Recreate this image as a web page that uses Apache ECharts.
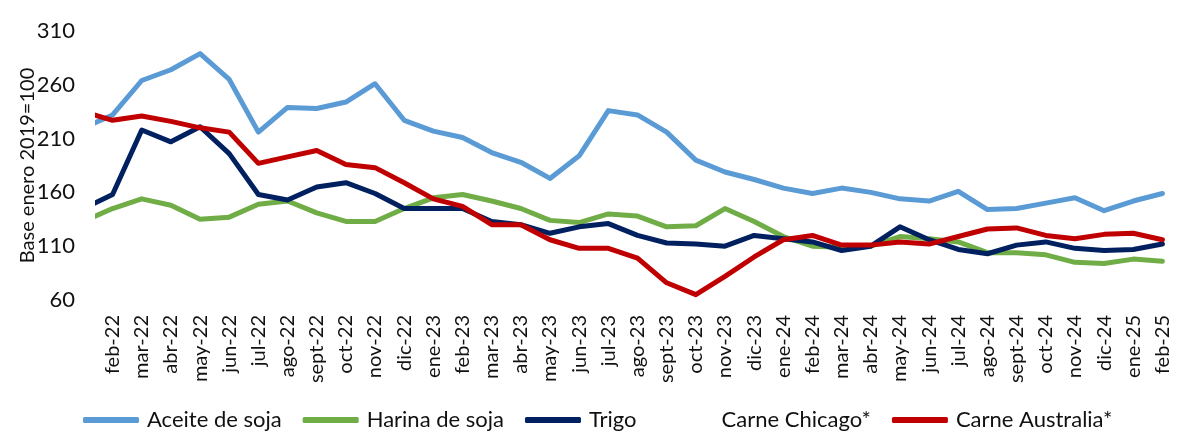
<!DOCTYPE html>
<html lang="es">
<head>
    <meta charset="UTF-8">
    <script src="https://cdn.jsdelivr.net/npm/echarts@6/dist/echarts.min.js"></script>
    <title>Precios</title>
    <style>
        html, body { margin: 0; padding: 0; background: #fff; }
    </style>
</head>
<body>
    <div id="main" style="width:1199px;height:448px"></div>
    <script>
        // etiquetas del eje (feb-22 .. feb-25)
        var meses = ['feb-22','mar-22','abr-22','may-22','jun-22','jul-22','ago-22','sept-22','oct-22','nov-22','dic-22',
            'ene-23','feb-23','mar-23','abr-23','may-23','jun-23','jul-23','ago-23','sept-23','oct-23','nov-23','dic-23',
            'ene-24','feb-24','mar-24','abr-24','may-24','jun-24','jul-24','ago-24','sept-24','oct-24','nov-24','dic-24',
            'ene-25','feb-25'];

        // el primer valor es ene-22, que queda fuera del área (la línea entra cortada por la izquierda)
        var aceite = [220, 232, 264, 274, 289, 265, 216, 239, 238, 244, 261, 227,
            217, 211, 197, 188, 173, 194, 236, 232, 216, 190, 179, 172,
            164, 159, 164, 160, 154, 152, 161, 144, 145, 150, 155, 143,
            152, 159];
        var harina = [133, 145, 154, 148, 135, 137, 149, 152, 141, 133, 133, 145,
            155, 158, 152, 145, 134, 132, 140, 138, 128, 129, 145, 133,
            119, 110, 109, 110, 119, 117, 114, 104, 104, 102, 95, 94,
            98, 96];
        var trigo = [145, 158, 218, 207, 221, 196, 158, 153, 165, 169, 159, 145,
            145, 145, 133, 130, 122, 128, 131, 120, 113, 112, 110, 120,
            117, 114, 106, 110, 128, 116, 107, 103, 111, 114, 108, 106,
            107, 112];
        var chicago = [];
        var australia = [235, 227, 231, 226, 220, 216, 187, 193, 199, 186, 183, 169,
            154, 147, 130, 130, 116, 108, 108, 99, 76, 65, 82, 100,
            116, 120, 111, 111, 114, 112, 119, 126, 127, 120, 117, 121,
            122, 116];

        var ticksY = [60, 110, 160, 210, 260, 310];

        function puntos(arr) {
            return arr.map(function (v, i) { return [i - 0.5, v]; });
        }

        var chart = echarts.init(document.getElementById('main'));
        var fuente = 'Lato, "Open Sans", sans-serif';

        function serie(nombre, color, arr) {
            return {
                name: nombre,
                type: 'line',
                xAxisIndex: 1,
                data: puntos(arr),
                symbol: 'none',
                clip: true,
                lineStyle: { width: 5, color: color, cap: 'round', join: 'round' },
                itemStyle: { color: color }
            };
        }

        var option = {
            animation: false,
            textStyle: { fontFamily: fuente },
            grid: { left: 98, right: 22, top: 31, bottom: 148 },
            legend: {
                left: 78,
                top: 404,
                icon: 'roundRect',
                itemWidth: 56,
                itemHeight: 6,
                itemGap: 21,
                textStyle: { fontSize: 22, color: '#111', fontFamily: fuente, padding: [0, 0, 0, 3] },
                data: ['Aceite de soja', 'Harina de soja', 'Trigo', 'Carne Chicago*', 'Carne Australia*']
            },
            xAxis: [
                {
                    type: 'category',
                    data: meses,
                    boundaryGap: true,
                    axisLine: { show: false },
                    axisTick: { show: false },
                    axisLabel: { rotate: 90, interval: 0, fontSize: 20, color: '#111', margin: 15, fontFamily: fuente }
                },
                {
                    type: 'value',
                    min: 0,
                    max: meses.length,
                    show: false
                }
            ],
            yAxis: {
                type: 'value',
                min: ticksY[0],
                max: ticksY[ticksY.length - 1],
                interval: 50,
                splitLine: { show: false },
                axisLine: { show: false },
                axisTick: { show: false },
                axisLabel: { fontSize: 22, color: '#111', margin: 23, fontFamily: fuente },
                name: 'Base enero 2019=100',
                nameLocation: 'middle',
                nameGap: 60,
                nameMoveOverlap: false,
                nameTextStyle: { fontSize: 20, color: '#111', fontFamily: fuente }
            },
            series: [
                serie('Aceite de soja', '#5B9BD5', aceite),
                serie('Harina de soja', '#70AD47', harina),
                serie('Trigo', '#002060', trigo),
                serie('Carne Chicago*', '#FFFFFF', chicago),
                serie('Carne Australia*', '#C00000', australia)
            ]
        };
        chart.setOption(option);
    </script>
</body>
</html>
